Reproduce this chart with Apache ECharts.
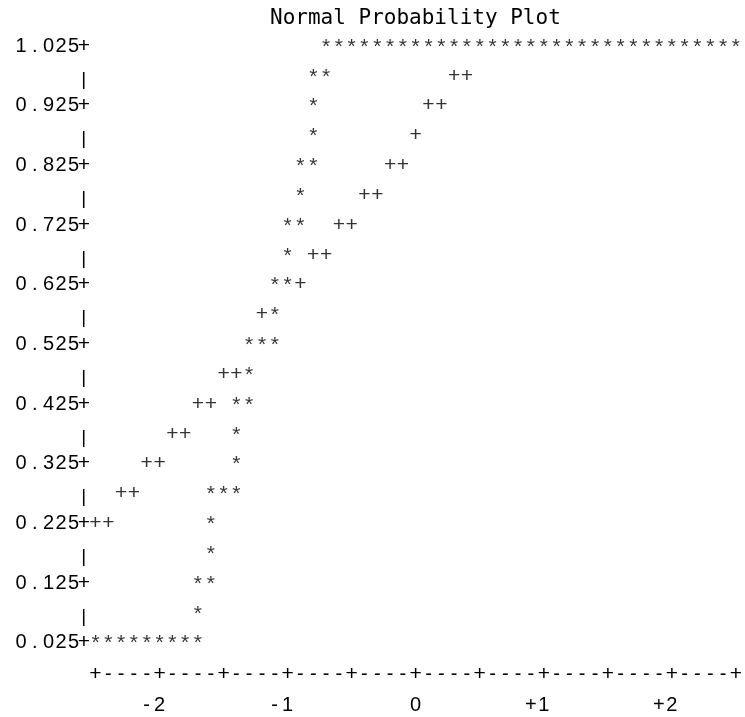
<!DOCTYPE html>
<html><head><meta charset="utf-8">
<script src="https://cdn.jsdelivr.net/npm/echarts@6/dist/echarts.min.js"></script>
<style>html,body{margin:0;padding:0;background:#fff}#c{width:745px;height:717px}</style>
</head><body><div id="c"></div>
<script>
const titleText = 'Normal Probability Plot';

// Observed points (*): normal quantile (x) and value (y)
const obsQuantile = [
  -2.5,-2.4,-2.3,-2.2,-2.1,-2.0,-1.9,-1.8,-1.7,
  -1.7,
  -1.7,-1.6,
  -1.6,
  -1.6,
  -1.6,-1.5,-1.4,
  -1.4,
  -1.4,
  -1.4,-1.3,
  -1.3,
  -1.3,-1.2,-1.1,
  -1.1,
  -1.1,-1.0,
  -1.0,
  -1.0,-0.9,
  -0.9,
  -0.9,-0.8,
  -0.8,
  -0.8,
  -0.8,-0.7,
  -0.7,-0.6,-0.5,-0.4,-0.3,-0.2,-0.1,0.0,0.1,0.2,0.3,0.4,0.5,0.6,0.7,0.8,0.9,1.0,1.1,1.2,1.3,1.4,1.5,1.6,1.7,1.8,1.9,2.0,2.1,2.2,2.3,2.4,2.5
];
const obsValue = [
  0.025,0.025,0.025,0.025,0.025,0.025,0.025,0.025,0.025,
  0.075,
  0.125,0.125,
  0.175,
  0.225,
  0.275,0.275,0.275,
  0.325,
  0.375,
  0.425,0.425,
  0.475,
  0.525,0.525,0.525,
  0.575,
  0.625,0.625,
  0.675,
  0.725,0.725,
  0.775,
  0.825,0.825,
  0.875,
  0.925,
  0.975,0.975,
  1.025,1.025,1.025,1.025,1.025,1.025,1.025,1.025,1.025,1.025,1.025,1.025,1.025,1.025,1.025,1.025,1.025,1.025,1.025,1.025,1.025,1.025,1.025,1.025,1.025,1.025,1.025,1.025,1.025,1.025,1.025,1.025,1.025
];

// Reference normal line (+)
const refQuantile = [-2.5,-2.4,-2.3,-2.2,-2.1,-2.0,-1.9,-1.8,-1.7,-1.6,-1.5,-1.4,-1.2,-0.9,-0.8,-0.7,-0.6,-0.5,-0.4,-0.3,-0.2,-0.1,0.0,0.1,0.2,0.3,0.4];
const refValue    = [0.225,0.225,0.275,0.275,0.325,0.325,0.375,0.375,0.425,0.425,0.475,0.475,0.575,0.625,0.675,0.675,0.725,0.725,0.775,0.775,0.825,0.825,0.875,0.925,0.925,0.975,0.975];

const yTickLabels = ['0.025','0.125','0.225','0.325','0.425','0.525','0.625','0.725','0.825','0.925','1.025'];
const xTickValues = [-2, -1, 0, 1, 2];
const xTickLabels = ['-2', '-1', '0', '+1', '+2'];

const SANS = 'Liberation Sans, Arial, Helvetica, sans-serif';
const MONO = 'DejaVu Sans Mono, monospace';
const PITCH = 12.92;

function yLabel(v) {
  const k = Math.round((v - 0.025) / 0.05);
  if (k % 2 === 1) return '{bar||}';
  const s = yTickLabels[k / 2];
  if (s === undefined) return '';
  return s.split('').map(ch => ch === '.' ? '{dot|.}' : '{d|' + ch + '}').join('') + '{p|+}';
}
function xRuleLabel(v) {
  const c = Math.round(v * 10) + 25;
  return c % 5 === 0 ? '{p|+}' : '{m|-}';
}
function xNumLabel(v) {
  const i = xTickValues.findIndex(t => Math.abs(t - v) < 1e-6);
  if (i < 0) return '';
  const s = xTickLabels[i];
  if (s.length === 1) return '{c|' + s + '}';
  return s.split('').map(ch => '{c|' + ch + '}').join('') + '{c| }';
}

const chart = echarts.init(document.getElementById('c'), null, {renderer: 'canvas'});
chart.setOption({
  animation: false,
  backgroundColor: '#fff',
  title: {
    text: titleText, left: 270, top: 8, padding: 0,
    textStyle: {fontFamily: MONO, fontSize: 21, fontWeight: 'normal', color: '#000'}
  },
  grid: {left: 95.5, right: 3.5, top: 46, bottom: 74.3, containLabel: false},
  xAxis: [{
    type: 'value', min: -2.5, max: 2.5, interval: 0.1, position: 'bottom',
    axisLine: {show: false}, axisTick: {show: false}, splitLine: {show: false},
    axisLabel: {
      formatter: xRuleLabel, margin: 31.6, verticalAlign: 'middle', color: '#000',
      showMinLabel: true, showMaxLabel: true,
      rich: {
        p: {fontFamily: SANS, fontSize: 21, color: '#000'},
        m: {fontFamily: SANS, fontSize: 20, color: '#000'}
      }
    }
  }, {
    type: 'value', min: -2.5, max: 2.5, interval: 0.5, position: 'bottom',
    axisLine: {show: false}, axisTick: {show: false}, splitLine: {show: false},
    axisLabel: {
      formatter: xNumLabel, margin: 63, verticalAlign: 'middle', color: '#000',
      rich: {c: {width: PITCH, align: 'center', fontFamily: SANS, fontSize: 20, color: '#000'}}
    }
  }],
  yAxis: {
    type: 'value', min: 0.025, max: 1.025, interval: 0.05,
    axisLine: {show: false}, axisTick: {show: false}, splitLine: {show: false},
    axisLabel: {
      formatter: yLabel, align: 'right', verticalAlign: 'middle', margin: 7.7, color: '#000',
      showMinLabel: true, showMaxLabel: true,
      rich: {
        d: {width: 12.5, align: 'center', fontFamily: SANS, fontSize: 20, color: '#000'},
        dot: {width: 15, align: 'center', fontFamily: SANS, fontSize: 20, color: '#000'},
        p: {width: 8, align: 'center', fontFamily: SANS, fontSize: 21, color: '#000'},
        bar: {width: 8, align: 'center', fontFamily: SANS, fontSize: 19, color: '#000', padding: [7, 0, 0, 0]}
      }
    }
  },
  series: [{
    type: 'scatter', name: 'reference', silent: true, xAxisIndex: 0,
    data: refQuantile.map((x, i) => [x, refValue[i]]),
    symbol: 'circle', symbolSize: 1, itemStyle: {color: 'rgba(0,0,0,0)'},
    label: {show: true, position: 'inside', formatter: '+', fontFamily: SANS, fontSize: 21, color: '#000'},
    emphasis: {disabled: true}
  }, {
    type: 'scatter', name: 'observed', silent: true, xAxisIndex: 0,
    data: obsQuantile.map((x, i) => [x, obsValue[i]]),
    symbol: 'circle', symbolSize: 1, itemStyle: {color: 'rgba(0,0,0,0)'},
    label: {show: true, position: 'inside', formatter: '*', fontFamily: SANS, fontSize: 21, color: '#000', offset: [0, 1]},
    emphasis: {disabled: true}
  }]
});
</script></body></html>
